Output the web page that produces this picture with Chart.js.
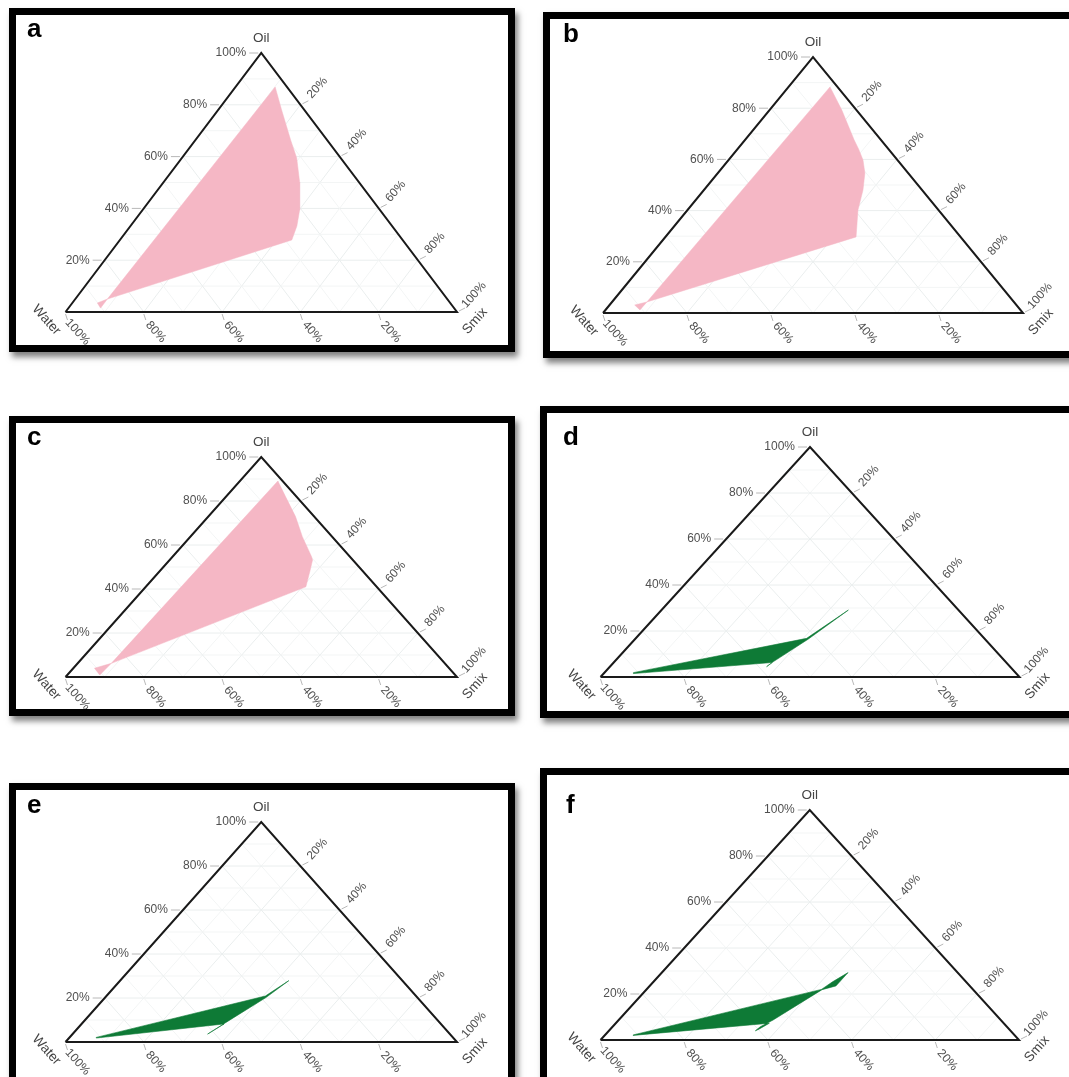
<!DOCTYPE html>
<html><head><meta charset="utf-8">
<script src="https://cdn.jsdelivr.net/npm/chart.js@4.4.1/dist/chart.umd.min.js"></script>
<style>
html,body{margin:0;padding:0;background:#fff;overflow:hidden;width:1069px;height:1077px;}
.panel{position:absolute;box-sizing:border-box;border:7px solid #000;background:#fff;box-shadow:3px 5px 6px rgba(0,0,0,0.5);}
.panel canvas{position:absolute;left:0;top:0;}
</style></head><body>
<script>
// ---------- data ----------
const axisNames = ['Oil', 'Water', 'Smix'];
const tickValues = [20, 40, 60, 80, 100];
const tickLabels = ['20%', '40%', '60%', '80%', '100%'];
const gridValues = [10, 20, 30, 40, 50, 60, 70, 80, 90];
const panelLetters = ['a', 'b', 'c', 'd', 'e', 'f'];

// region boundaries, ternary composition in % (Oil, Water, Smix)
const oilA   = [86.9, 78.0, 66.4, 59.5, 50.2, 39.4, 33.2, 27.8, 5.0, 1.5, 3.5, 5.0];
const waterA = [3.0, 5.8, 9.3, 11.2, 15.1, 20.5, 24.3, 28.3, 86.8, 90.3, 90.1, 86.8];
const smixA  = [10.1, 16.2, 24.3, 29.3, 34.7, 40.1, 42.5, 43.9, 8.2, 8.2, 6.4, 8.2];

const oilB   = [88.3, 79.3, 67.6, 63.7, 59.8, 54.7, 48.0, 40.2, 29.7, 4.3, 1.2, 3.1, 4.3];
const waterB = [1.8, 3.5, 6.4, 7.2, 8.2, 10.3, 14.1, 19.2, 24.9, 87.4, 90.6, 90.9, 87.4];
const smixB  = [9.9, 17.2, 26.0, 29.1, 32.0, 35.0, 37.9, 40.6, 45.4, 8.3, 8.2, 6.0, 8.3];

const oilC   = [89.1, 82.0, 72.9, 63.8, 54.7, 53.2, 48.6, 41.0, 6.2, 0.9, 4.0, 6.2];
const waterC = [1.2, 2.8, 4.8, 7.6, 9.8, 10.3, 13.2, 18.1, 85.2, 90.8, 90.6, 85.2];
const smixC  = [9.7, 15.2, 22.3, 28.6, 35.5, 36.5, 38.2, 40.9, 8.6, 8.3, 5.4, 8.6];

const oilD   = [1.9, 16.8, 29.1, 16.3, 6.6, 4.5, 6.3, 1.5];
const waterD = [91.2, 42.4, 26.3, 42.4, 55.5, 58.1, 55.9, 91.4];
const smixD  = [6.9, 40.8, 44.6, 41.3, 37.9, 37.4, 37.8, 7.1];

const oilE   = [2.1, 20.9, 27.9, 20.2, 8.8, 3.6, 8.2, 1.8];
const waterE = [91.1, 38.5, 29.0, 38.7, 54.7, 61.9, 55.4, 91.2];
const smixE  = [6.8, 40.6, 43.1, 41.1, 36.5, 34.5, 36.4, 7.0];

const oilF   = [2.2, 22.0, 25.3, 29.3, 23.5, 21.9, 8.7, 5.8, 4.0, 4.7, 7.3, 2.0];
const waterF = [91.1, 36.2, 31.9, 26.2, 32.0, 36.1, 54.4, 58.9, 61.0, 59.8, 56.0, 91.2];
const smixF  = [6.7, 41.8, 42.8, 44.5, 44.5, 42.0, 36.9, 35.3, 35.0, 35.5, 36.7, 6.8];

// ---------- layout / style ----------
const PINK = '#f5b7c5';
const GREEN = '#0e7a36';
const FONT = '"Liberation Sans", Arial, Helvetica, sans-serif';
const panels = [
  {box: [9, 8, 506, 344],    tri: [65.5, 457, 53, 312],     letter: [27, 37],   oil: oilA, water: waterA, smix: smixA, color: PINK,  bw: 0.5},
  {box: [543, 12, 540, 346], tri: [603, 1023, 57, 313],     letter: [563, 42],  oil: oilB, water: waterB, smix: smixB, color: PINK,  bw: 0.5},
  {box: [9, 416, 506, 300],  tri: [65.5, 457, 457, 677],    letter: [27, 445],  oil: oilC, water: waterC, smix: smixC, color: PINK,  bw: 0.5},
  {box: [540, 406, 543, 312],tri: [600.5, 1019.5, 447, 677],letter: [563, 445], oil: oilD, water: waterD, smix: smixD, color: GREEN, bw: 0.6},
  {box: [9, 783, 506, 310],  tri: [65.5, 457, 822, 1042],   letter: [27, 813],  oil: oilE, water: waterE, smix: smixE, color: GREEN, bw: 0.6},
  {box: [540, 768, 543, 330],tri: [600.5, 1019, 810, 1040], letter: [566, 813], oil: oilF, water: waterF, smix: smixF, color: GREEN, bw: 0.6}
];

function rtext(ctx, s, x, y, ang) {
  ctx.save();
  ctx.translate(x, y);
  ctx.rotate(ang * Math.PI / 180);
  ctx.textAlign = 'center';
  ctx.textBaseline = 'middle';
  ctx.fillText(s, 0, 0);
  ctx.restore();
}
function seg(ctx, x1, y1, x2, y2) { ctx.beginPath(); ctx.moveTo(x1, y1); ctx.lineTo(x2, y2); ctx.stroke(); }

const ternaryPlugin = {
  id: 'ternary',
  beforeDatasetsDraw(chart, args, opts) {
    const ctx = chart.ctx, sx = chart.scales.x, sy = chart.scales.y;
    const P = (a, b) => [sx.getPixelForValue(a), sy.getPixelForValue(b)];
    ctx.save();
    ctx.lineWidth = 1;
    for (const g of gridValues) {
      ctx.strokeStyle = (g % 20 === 0) ? '#eaeeee' : '#f3f5f5';
      const lines = [
        [P(g / 2, g), P(100 - g / 2, g)],
        [P(g, 0), P(g + (100 - g) / 2, 100 - g)],
        [P(100 - g, 0), P((100 - g) / 2, 100 - g)]
      ];
      for (const [p, q] of lines) seg(ctx, p[0], p[1], q[0], q[1]);
    }
    ctx.restore();
  },
  afterDraw(chart, args, opts) {
    const ctx = chart.ctx, sx = chart.scales.x, sy = chart.scales.y;
    const P = (a, b) => [sx.getPixelForValue(a), sy.getPixelForValue(b)];
    ctx.save();
    ctx.strokeStyle = '#b8b8b8';
    ctx.lineWidth = 1;
    ctx.fillStyle = '#505050';
    ctx.font = '12px ' + FONT;
    tickValues.forEach((v, i) => {
      // Oil axis (left edge)
      let [px, py] = P(v / 2, v);
      seg(ctx, px - 3, py, px - 12, py);
      ctx.textAlign = 'right'; ctx.textBaseline = 'middle';
      ctx.fillText(tickLabels[i], px - 15, py);
      // Smix axis (right edge)
      [px, py] = P(50 + v / 2, 100 - v);
      seg(ctx, px + 2, py - 1, px + 8, py - 4);
      rtext(ctx, tickLabels[i], px + 17, py - 17, -48);
      // Water axis (bottom edge)
      [px, py] = P(100 - v, 0);
      seg(ctx, px, py + 2, px + 2, py + 8);
      rtext(ctx, tickLabels[i], px + 12, py + 20, 48);
    });
    ctx.fillStyle = '#444';
    ctx.font = '13.5px ' + FONT;
    let [ox, oy] = P(50, 100);
    ctx.textAlign = 'center'; ctx.textBaseline = 'middle';
    ctx.fillText(axisNames[0], ox, oy - 15);
    let [wx, wy] = P(0, 0);
    rtext(ctx, axisNames[1], wx - 19, wy + 8, 48);
    let [smx, smy] = P(100, 0);
    rtext(ctx, axisNames[2], smx + 18, smy + 9, -48);
    // panel letter
    ctx.fillStyle = '#000';
    ctx.font = 'bold 26px ' + FONT;
    ctx.textAlign = 'left'; ctx.textBaseline = 'alphabetic';
    ctx.fillText(opts.letter, opts.lx, opts.ly);
    ctx.restore();
  }
};

panels.forEach((p, idx) => {
  const [bx, by, bw, bh] = p.box;
  const div = document.createElement('div');
  div.className = 'panel';
  div.style.left = bx + 'px'; div.style.top = by + 'px';
  div.style.width = bw + 'px'; div.style.height = bh + 'px';
  document.body.appendChild(div);
  const cx0 = bx + 7, cy0 = by + 7, cw = bw - 14, ch = bh - 14;
  const cv = document.createElement('canvas');
  cv.width = cw; cv.height = ch;
  cv.style.width = cw + 'px'; cv.style.height = ch + 'px';
  div.appendChild(cv);
  const [twx, tsx, ttop, tbase] = p.tri;

  const region = p.oil.map((o, i) => ({x: p.smix[i] + o / 2, y: o}));
  region.push(region[0]);
  const outline = [{x: 0, y: 0}, {x: 100, y: 0}, {x: 50, y: 100}, {x: 0, y: 0}];

  new Chart(cv, {
    type: 'line',
    data: {
      datasets: [
        {data: outline, borderColor: '#1a1a1a', borderWidth: 2, fill: false, pointRadius: 0, borderJoinStyle: 'miter', clip: 6},
        {data: region, borderColor: p.color, backgroundColor: p.color, borderWidth: p.bw, fill: 'shape', pointRadius: 0, borderJoinStyle: 'miter'}
      ]
    },
    options: {
      responsive: false, animation: false, devicePixelRatio: 1, events: [],
      layout: {padding: {left: twx - cx0, right: cx0 + cw - tsx, top: ttop - cy0, bottom: cy0 + ch - tbase}},
      scales: {
        x: {type: 'linear', min: 0, max: 100, display: false},
        y: {type: 'linear', min: 0, max: 100, display: false}
      },
      elements: {line: {tension: 0}, point: {radius: 0}},
      plugins: {
        legend: {display: false}, tooltip: {enabled: false},
        ternary: {letter: panelLetters[idx], lx: p.letter[0] - cx0, ly: p.letter[1] - cy0}
      }
    },
    plugins: [ternaryPlugin]
  });
});
</script>
</body></html>
